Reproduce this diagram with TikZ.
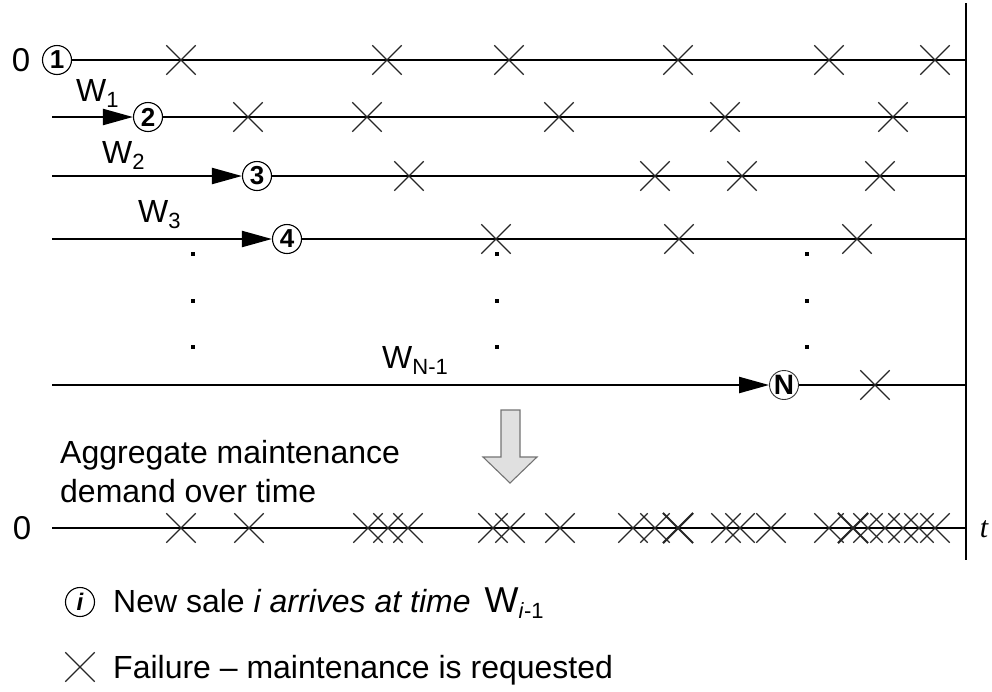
\documentclass[tikz,border=0pt]{standalone}
\usepackage{fontspec}
\setmainfont{Liberation Sans}
\newfontfamily\serifit{Liberation Serif}
\usetikzlibrary{arrows.meta,shapes.misc}
\begin{document}
\begin{tikzpicture}[x=1pt,y=-1pt,
  lbl/.style={inner sep=0pt, font=\fontsize{33}{39}\selectfont},
  wlbl/.style={inner sep=0pt, anchor=base west, font=\fontsize{32}{39}\selectfont},
  sale/.style={circle, draw, line width=1.1pt, fill=white, minimum size=29pt, inner sep=0pt, font=\fontsize{26}{26}\selectfont\bfseries},
  tl/.style={line width=2.2pt},
  fail/.style={cross out, draw=black!85, line width=1.3pt, minimum size=28pt, inner sep=0pt},
  boldfail/.style={fail, line width=2.1pt},
  dotm/.style={fill, minimum size=4.5pt, inner sep=0pt},
  arr/.style={tl, -{Triangle[length=30pt,width=16pt]}},
]
\useasboundingbox (0,0) rectangle (992,691);
\newcommand{\sub}[1]{\raisebox{-6pt}{\fontsize{22}{22}\selectfont #1}}

% vertical time boundary
\coordinate (vt) at (966,3);
\coordinate (vb) at (966,560);
\draw[tl] (vt) -- (vb);

% row 1
\node[lbl] (z1) at (21,60) {0};
\node[sale] (c1) at (57,60) {1};
\coordinate (e1) at (966,60);
\draw[tl] (c1.east) -- (e1);
% row 2
\coordinate (s2) at (52,117);
\coordinate (e2) at (966,117);
\node[sale] (c2) at (148,117) {2};
\draw[arr] (s2) -- (c2.west);
\draw[tl] (c2.east) -- (e2);
\node[wlbl] (w1) at (76,101) {W\sub{1}};
% row 3
\coordinate (s3) at (52,176);
\coordinate (e3) at (966,176);
\node[sale] (c3) at (257,176) {3};
\draw[arr] (s3) -- (c3.west);
\draw[tl] (c3.east) -- (e3);
\node[wlbl] (w2) at (102,163) {W\sub{2}};
% row 4
\coordinate (s4) at (52,239);
\coordinate (e4) at (966,239);
\node[sale] (c4) at (287,239) {4};
\draw[arr] (s4) -- (c4.west);
\draw[tl] (c4.east) -- (e4);
\node[wlbl] (w3) at (138,222) {W\sub{3}};
% row N
\coordinate (sN) at (52,385);
\coordinate (eN) at (966,385);
\node[sale, line width=0.9pt, draw=black!80, font=\fontsize{28}{28}\selectfont\bfseries] (cN) at (784,385) {N};
\draw[arr] (sN) -- (cN.west);
\draw[tl] (cN.east) -- (eN);
\node[wlbl] (wN) at (382,368) {W\sub{N-1}};

% dots
\foreach \x [count=\i] in {193,497,807}
  \foreach \y [count=\j] in {254,301,347}
    \node[dotm] (d\i\j) at (\x,\y) {};

% failures on individual rows
\foreach \x [count=\i] in {181,387,509,678,829,935}
  \node[fail] (fa\i) at (\x,60) {};
\foreach \x [count=\i] in {248,367,559,725,893}
  \node[fail] (fb\i) at (\x,117) {};
\foreach \x [count=\i] in {409,655,742,880}
  \node[fail] (fc\i) at (\x,176) {};
\foreach \x [count=\i] in {496,679,857}
  \node[fail] (fd\i) at (\x,239) {};
\node[fail] (fn1) at (875,385) {};

% aggregation arrow
\draw[fill=black!12, draw=black!55, line width=1.1pt]
  (501,410) -- (520,410) -- (520,457) -- (537,457) -- (510,483) -- (483,457) -- (501,457) -- cycle;

\node[inner sep=0pt, anchor=base west, font=\fontsize{32}{39}\selectfont] (agg1) at (60,463) {Aggregate maintenance};
\node[inner sep=0pt, anchor=base west, font=\fontsize{32}{39}\selectfont] (agg2) at (60,502) {demand over time};

% aggregate line
\node[lbl] (z2) at (22,528) {0};
\coordinate (sA) at (52,528);
\coordinate (eA) at (966,528);
\draw[tl] (sA) -- (eA);
\foreach \x [count=\i] in {181,249,368,388,408,493,510,560,633,655,726,740,771,829,868,885,903,919,935}
  \node[fail] (ag\i) at (\x,528) {};
\node[boldfail] (agb1) at (678,528) {};
\node[boldfail] (agb2) at (853,528) {};
\node[inner sep=0pt, font=\serifit\itshape\fontsize{30}{30}\selectfont] (t) at (984,529) {t};

% legend
\node[sale, font=\fontsize{24}{24}\selectfont\bfseries\itshape] (li) at (80,602) {i};
\node[wlbl] (lt1) at (113,612) {New sale \textit{i arrives at time}\hspace{14pt}{\fontsize{36}{40}\selectfont W}\sub{\textit{i}-1}};
\node[fail] (lx) at (80,667) {};
\node[wlbl] (lt2) at (113,678) {Failure -- maintenance is requested};
\end{tikzpicture}
\end{document}
